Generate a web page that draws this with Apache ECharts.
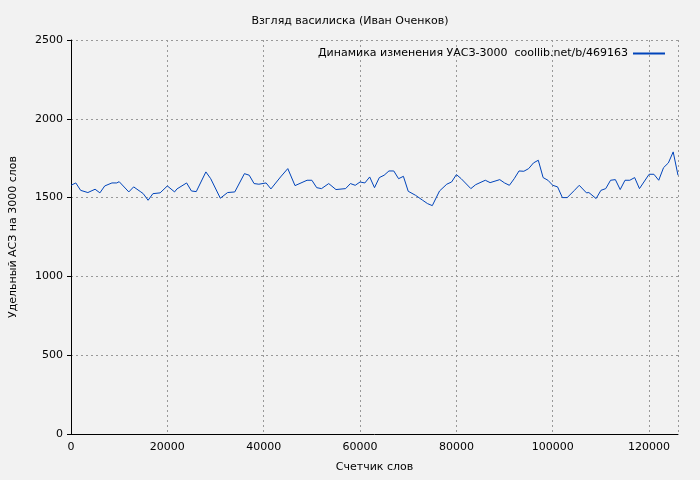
<!DOCTYPE html>
<html><head><meta charset="utf-8">
<script src="https://cdn.jsdelivr.net/npm/echarts@6/dist/echarts.min.js"></script>
<style>html,body{margin:0;padding:0;background:#f2f2f2}#c{width:700px;height:480px}</style>
</head><body><div id="c"></div>
<script>
// позиции (слова) и удельный АСЗ на 3000 слов
var words = [0,1000,2000,3500,5000,6000,7000,8500,9500,10000,12000,13000,14500,15000,16000,17000,18500,20000,21500,22000,24000,25000,26000,28000,29000,31000,32500,34000,36000,37000,38000,39000,40500,41500,43500,45000,46500,49000,50000,51000,52000,53500,55000,57000,58000,59000,60000,61000,62000,63000,64000,65000,66000,67000,68000,69000,70000,71500,73000,74000,75000,76500,78000,79000,80000,81000,83000,84000,86000,87000,89000,90000,91000,92000,93000,94000,95000,96000,97000,98000,99000,100000,101000,102000,103000,104500,105500,107000,107500,109000,110000,111000,112000,113000,114000,115000,116000,117000,118000,120000,121000,122000,123000,124000,125000,126000];
var asz = [1578,1593,1546,1532,1553,1530,1574,1593,1593,1601,1536,1568,1536,1525,1483,1525,1530,1574,1536,1555,1593,1542,1538,1663,1620,1496,1532,1536,1652,1642,1589,1585,1593,1555,1631,1684,1576,1610,1610,1563,1557,1589,1551,1557,1589,1578,1599,1593,1631,1563,1627,1642,1669,1669,1620,1635,1540,1515,1483,1462,1449,1542,1585,1599,1646,1620,1557,1582,1610,1595,1614,1593,1578,1620,1669,1667,1684,1720,1737,1627,1610,1578,1568,1500,1500,1546,1578,1530,1532,1494,1546,1557,1610,1614,1551,1610,1610,1627,1557,1648,1648,1610,1690,1720,1790,1642];

var myChart = echarts.init(document.getElementById('c'));
var txt = {color:'#000', fontFamily:'DejaVu Sans', fontSize:11};
var grid = {show:true, lineStyle:{color:'#999', type:[2,3]}};
var plain = function(v){return String(v);};
option = {
    backgroundColor: '#f2f2f2',
    animation: false,
    title: {text:'Взгляд василиска (Иван Оченков)', left:'center', top:11,
        textStyle:{color:'#000', fontFamily:'DejaVu Sans', fontSize:11, fontWeight:'normal'}},
    legend: {right:30, top:43, itemWidth:32, itemHeight:2, icon:'rect', itemGap:6,
        textStyle:txt, align:'right'},
    grid: {left:66, right:22, top:40, bottom:46},
    xAxis: {type:'value', min:0, max:126000, interval:20000, name:'Счетчик слов',
        nameLocation:'middle', nameGap:28, nameTextStyle:txt,
        axisLabel:Object.assign({showMaxLabel:false, formatter:plain}, txt),
        axisLine:{onZero:false, lineStyle:{color:'#000'}}, axisTick:{show:false},
        splitLine:grid},
    yAxis: {type:'value', min:0, max:2500, interval:500, name:'Удельный АСЗ на 3000 слов',
        nameLocation:'middle', nameGap:52, nameTextStyle:txt,
        axisLabel:Object.assign({formatter:plain}, txt),
        axisLine:{show:true, lineStyle:{color:'#000'}}, axisTick:{show:true, inside:false, length:4, lineStyle:{color:'#000'}},
        splitLine:grid},
    series: [{
        name: 'Динамика изменения УАСЗ-3000  coollib.net/b/469163',
        type: 'line', symbol:'none', color:'#0044bb',
        lineStyle:{width:1},
        data: words.map(function(w,i){return [w, asz[i]];})
    }]
};
myChart.setOption(option, true);
</script></body></html>
